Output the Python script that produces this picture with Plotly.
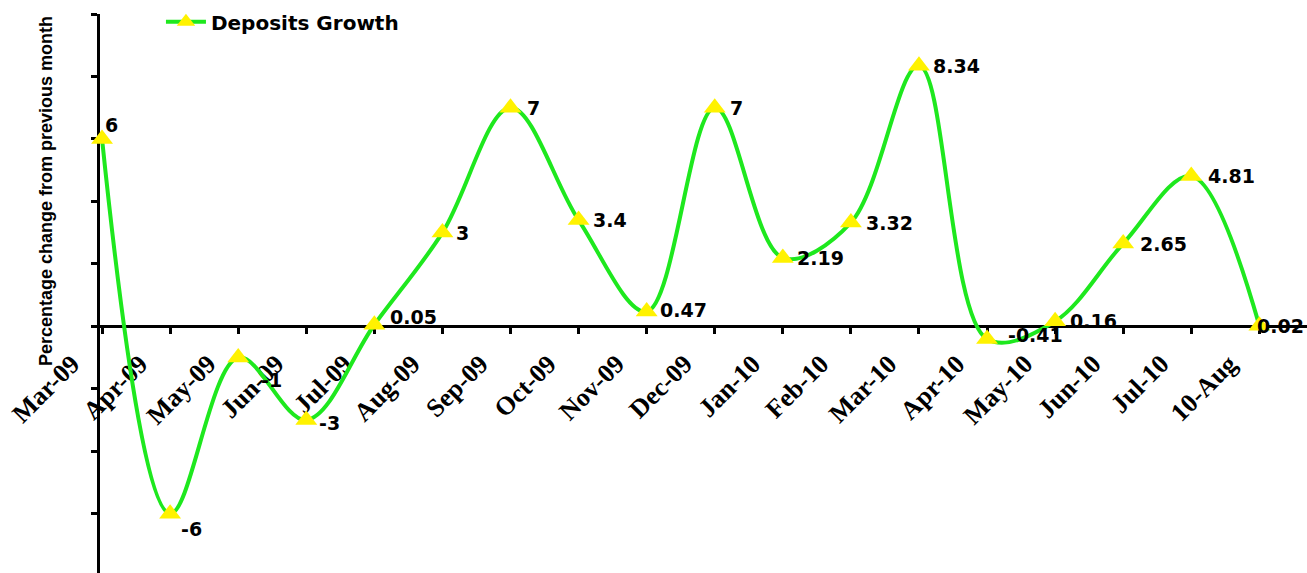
import plotly.graph_objects as go

# Monthly deposits growth (percentage change from previous month)
months = ["Mar-09", "Apr-09", "May-09", "Jun-09", "Jul-09", "Aug-09", "Sep-09",
          "Oct-09", "Nov-09", "Dec-09", "Jan-10", "Feb-10", "Mar-10", "Apr-10",
          "May-10", "Jun-10", "Jul-10", "10-Aug"]
growth = [6, -6, -1, -3, 0.05, 3, 7, 3.4, 0.47, 7, 2.19, 3.32, 8.34, -0.41,
          0.16, 2.65, 4.81, 0.02]

idx = list(range(len(months)))

# per-point label offsets in pixels (x, y) from the marker centre
label_dx = [1, 9, 21, 11, 14, 12, 14, 12, 11, 13, 12, 13, 12, 19, 13, 15, 15, -4]
label_dy = [14, -15, -22, -3, 8, 0, 0, 0, 2, 0, 0, 0, 0, 4, 0, 0, 0, 0]

y_min, y_max = -7.9, 10.0

fig = go.Figure()
fig.add_trace(go.Scatter(
    x=idx, y=growth,
    mode="lines+markers",
    name="Deposits Growth",
    line=dict(color="#1EE81E", width=4, shape="spline", smoothing=1.0),
    marker=dict(symbol="triangle-up", size=19, color="#FFF200",
                line=dict(width=0)),
    cliponaxis=False,
))

for i, v in enumerate(growth):
    fig.add_annotation(
        x=idx[i], y=v, text=f"{v:g}", showarrow=False,
        xanchor="left", yanchor="middle",
        xshift=label_dx[i], yshift=label_dy[i],
        font=dict(family="DejaVu Sans", size=19, color="black", weight="bold"),
    )

fig.add_annotation(
    xref="paper", yref="paper", x=-54 / 1207, y=1 - (191 - 14) / 559,
    text="Percentage change from previous month", textangle=-90,
    showarrow=False, xanchor="center", yanchor="middle",
    font=dict(family="Liberation Sans", size=18, color="black", weight="bold"),
)

fig.update_layout(
    width=1307, height=573,
    margin=dict(l=100, r=0, t=14, b=0),
    paper_bgcolor="white", plot_bgcolor="white",
    showlegend=True,
    legend=dict(x=0.0505, y=1.021, xanchor="left", yanchor="top",
                bgcolor="rgba(0,0,0,0)",
                font=dict(family="DejaVu Sans", size=20, color="black",
                          weight="bold"),
                itemwidth=40),
    xaxis=dict(
        range=[-0.03, 17.7],
        anchor="free", position=(0 - y_min) / (y_max - y_min),
        tickmode="array", tickvals=idx, ticktext=months,
        tickangle=-45,
        ticks="outside", ticklen=6, tickwidth=3, tickcolor="black",
        showline=True, linecolor="black", linewidth=3,
        showgrid=False, zeroline=False,
        tickfont=dict(family="Liberation Serif", size=26, color="black",
                      weight="bold"),
        ticklabelstandoff=4, ticklabelshift=-30,
        layer="below traces",
    ),
    yaxis=dict(
        range=[y_min, y_max],
        dtick=2, tick0=0,
        ticks="outside", ticklen=6, tickwidth=3, tickcolor="black",
        showticklabels=False,
        showline=True, linecolor="black", linewidth=3,
        showgrid=False, zeroline=False,
        layer="below traces",
    ),
)

fig.write_html("out.html")
